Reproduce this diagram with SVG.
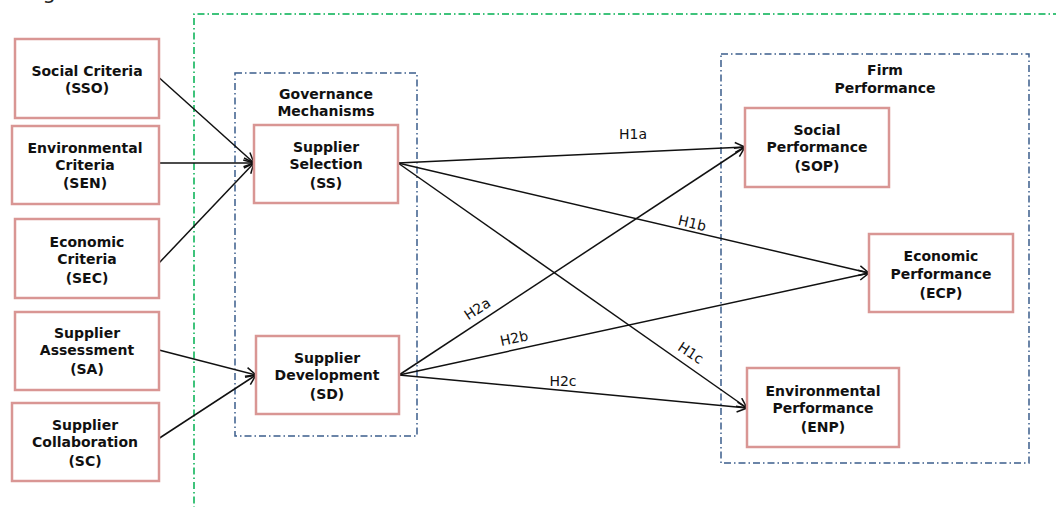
<svg xmlns="http://www.w3.org/2000/svg" width="1056" height="507" viewBox="0 0 1056 507">
<style>
.box{fill:#fff;stroke:#D99694;stroke-width:2.5}
.t{font-family:"DejaVu Sans",Verdana,sans-serif;font-size:14px;font-weight:bold;fill:#111;text-anchor:middle}
.lbl{font-family:"DejaVu Sans",Verdana,sans-serif;font-size:14px;fill:#111;text-anchor:middle}
.grp{fill:none;stroke:#3B5E8C;stroke-width:1.5;stroke-dasharray:7 3 1.5 3}
.outer{fill:none;stroke:#00B050;stroke-width:1.5;stroke-dasharray:7 3 1.5 3}
.c{stroke:#111;stroke-width:1.5;fill:none;marker-end:url(#arr)}
</style>
<defs>
<marker id="arr" markerUnits="userSpaceOnUse" markerWidth="14" markerHeight="14" refX="11" refY="6" orient="auto">
<path d="M1,1 L11,6 L1,11" fill="none" stroke="#111" stroke-width="1.5"/>
</marker>
</defs>
<rect width="1056" height="507" fill="#fff"/>
<text x="26" y="-1" style="font-family:'DejaVu Sans',Verdana,sans-serif;font-size:21px;fill:#222">Figure 1</text>
<g id="outer-boundary">
<path class="outer" d="M1060,14 L194,14 L194,510"/>
</g>
<g id="governance-mechanisms">
<rect class="grp" x="235" y="73" width="182" height="363"/>
<text class="t" x="326" y="99">Governance</text>
<text class="t" x="326" y="116">Mechanisms</text>
</g>
<g id="firm-performance">
<rect class="grp" x="721" y="54" width="308" height="409"/>
<text class="t" x="885" y="75">Firm</text>
<text class="t" x="885" y="93">Performance</text>
</g>
<g id="connectors">
<line class="c" x1="155" y1="74" x2="254" y2="163"/>
<line class="c" x1="155" y1="163" x2="254" y2="163"/>
<line class="c" x1="159" y1="263" x2="254" y2="163"/>
<line class="c" x1="155" y1="349" x2="256" y2="375"/>
<line class="c" x1="155" y1="441" x2="256" y2="375"/>
<line class="c" x1="398" y1="163" x2="745" y2="147"/>
<line class="c" x1="398" y1="163" x2="869" y2="273"/>
<line class="c" x1="398" y1="163" x2="747" y2="408"/>
<line class="c" x1="399" y1="375" x2="745" y2="147"/>
<line class="c" x1="399" y1="375" x2="869" y2="273"/>
<line class="c" x1="399" y1="375" x2="747" y2="408"/>
<text class="lbl" x="633" y="139">H1a</text>
<text class="lbl" x="0" y="0" transform="translate(691,228) rotate(13)">H1b</text>
<text class="lbl" x="0" y="0" transform="translate(688,357) rotate(33)">H1c</text>
<text class="lbl" x="0" y="0" transform="translate(480,313) rotate(-33)">H2a</text>
<text class="lbl" x="0" y="0" transform="translate(515,343) rotate(-12)">H2b</text>
<text class="lbl" x="563" y="386">H2c</text>
</g>
<g id="SSO">
<rect class="box" x="15" y="39" width="144" height="79"/>
<text class="t" x="87" y="76">Social Criteria</text>
<text class="t" x="87" y="93">(SSO)</text>
</g>
<g id="SEN">
<rect class="box" x="12" y="126" width="147" height="78"/>
<text class="t" x="85" y="153">Environmental</text>
<text class="t" x="85" y="170">Criteria</text>
<text class="t" x="85" y="188">(SEN)</text>
</g>
<g id="SEC">
<rect class="box" x="15" y="219" width="144" height="79"/>
<text class="t" x="87" y="247">Economic</text>
<text class="t" x="87" y="264">Criteria</text>
<text class="t" x="87" y="283">(SEC)</text>
</g>
<g id="SA">
<rect class="box" x="15" y="312" width="144" height="78"/>
<text class="t" x="87" y="338">Supplier</text>
<text class="t" x="87" y="355">Assessment</text>
<text class="t" x="87" y="374">(SA)</text>
</g>
<g id="SC">
<rect class="box" x="12" y="403" width="147" height="78"/>
<text class="t" x="85" y="430">Supplier</text>
<text class="t" x="85" y="447">Collaboration</text>
<text class="t" x="85" y="466">(SC)</text>
</g>
<g id="SS">
<rect class="box" x="254" y="125" width="144" height="78"/>
<text class="t" x="326" y="152">Supplier</text>
<text class="t" x="326" y="169">Selection</text>
<text class="t" x="326" y="188">(SS)</text>
</g>
<g id="SD">
<rect class="box" x="256" y="336" width="143" height="78"/>
<text class="t" x="327" y="363">Supplier</text>
<text class="t" x="327" y="380">Development</text>
<text class="t" x="327" y="399">(SD)</text>
</g>
<g id="SOP">
<rect class="box" x="745" y="108" width="144" height="79"/>
<text class="t" x="817" y="135">Social</text>
<text class="t" x="817" y="152">Performance</text>
<text class="t" x="817" y="171">(SOP)</text>
</g>
<g id="ECP">
<rect class="box" x="869" y="234" width="144" height="78"/>
<text class="t" x="941" y="261">Economic</text>
<text class="t" x="941" y="279">Performance</text>
<text class="t" x="941" y="298">(ECP)</text>
</g>
<g id="ENP">
<rect class="box" x="747" y="368" width="152" height="79"/>
<text class="t" x="823" y="396">Environmental</text>
<text class="t" x="823" y="413">Performance</text>
<text class="t" x="823" y="432">(ENP)</text>
</g>
</svg>
